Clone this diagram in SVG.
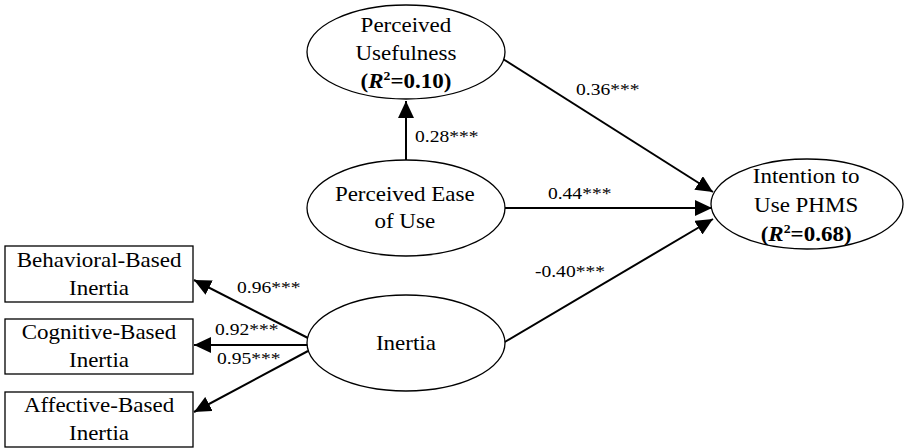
<svg xmlns="http://www.w3.org/2000/svg" width="904" height="448" viewBox="0 0 904 448">
<defs>
<style>
.shape{fill:#fff;stroke:#000;stroke-width:1.3}
.t{font-family:"Liberation Serif","Times New Roman",serif;font-size:20px;fill:#000;text-anchor:middle}
.b{font-weight:bold}
.lbl{font-family:"Liberation Serif","Times New Roman",serif;font-size:17px;fill:#000}
.edge{stroke:#000;stroke-width:2;fill:none;marker-end:url(#ah)}
</style>
<marker id="ah" markerUnits="userSpaceOnUse" markerWidth="18" markerHeight="16" viewBox="0 0 18 16" refX="17" refY="8" orient="auto">
<path d="M0,0 L17,8 L0,16 Z" fill="#000"/>
</marker>
</defs>
<rect width="904" height="448" fill="#fff"/>
<g id="connectors">
<line class="edge" x1="406" y1="160" x2="406" y2="101"/>
<line class="edge" x1="503" y1="59" x2="713" y2="192"/>
<line class="edge" x1="505" y1="208" x2="712" y2="208"/>
<line class="edge" x1="503" y1="343" x2="713" y2="219"/>
<line class="edge" x1="308" y1="338" x2="194" y2="280"/>
<line class="edge" x1="308" y1="345" x2="194" y2="345"/>
<line class="edge" x1="308" y1="351" x2="194" y2="412"/>
<g transform="scale(1.15 1)">
<text class="lbl" x="360.9" y="142">0.28***</text>
<text class="lbl" x="500.9" y="95">0.36***</text>
<text class="lbl" x="476.5" y="199">0.44***</text>
<text class="lbl" x="465.2" y="277">-0.40***</text>
<text class="lbl" x="206.1" y="293">0.96***</text>
<text class="lbl" x="187" y="335">0.92***</text>
<text class="lbl" x="188.7" y="364">0.95***</text>
</g>
</g>
<g id="pu">
<ellipse class="shape" cx="406" cy="52" rx="99" ry="47"/>
<g transform="scale(1.15 1)">
<text class="t" x="353" y="32">Perceived</text>
<text class="t" x="353" y="60">Usefulness</text>
<text class="t b" x="353" y="88">(<tspan font-style="italic">R</tspan><tspan font-size="12" dy="-8">2</tspan><tspan dy="8">=0.10)</tspan></text>
</g>
</g>
<g id="peou">
<ellipse class="shape" cx="406" cy="208" rx="99" ry="48"/>
<g transform="scale(1.15 1)">
<text class="t" x="352" y="201">Perceived Ease</text>
<text class="t" x="352" y="228">of Use</text>
</g>
</g>
<g id="inertia">
<ellipse class="shape" cx="406" cy="343" rx="99" ry="48"/>
<g transform="scale(1.15 1)">
<text class="t" x="353" y="350">Inertia</text>
</g>
</g>
<g id="intention">
<ellipse class="shape" cx="807" cy="204" rx="96" ry="45"/>
<g transform="scale(1.15 1)">
<text class="t" x="701" y="183">Intention to</text>
<text class="t" x="701" y="212">Use PHMS</text>
<text class="t b" x="701" y="241">(<tspan font-style="italic">R</tspan><tspan font-size="12" dy="-8">2</tspan><tspan dy="8">=0.68)</tspan></text>
</g>
</g>
<g id="bbi">
<rect class="shape" x="5" y="246" width="188" height="56"/>
<g transform="scale(1.15 1)">
<text class="t" x="86.1" y="267">Behavioral-Based</text>
<text class="t" x="86.1" y="295">Inertia</text>
</g>
</g>
<g id="cbi">
<rect class="shape" x="5" y="319" width="188" height="55"/>
<g transform="scale(1.15 1)">
<text class="t" x="86.1" y="339">Cognitive-Based</text>
<text class="t" x="86.1" y="367">Inertia</text>
</g>
</g>
<g id="abi">
<rect class="shape" x="5" y="392" width="188" height="55"/>
<g transform="scale(1.15 1)">
<text class="t" x="86.1" y="412">Affective-Based</text>
<text class="t" x="86.1" y="440">Inertia</text>
</g>
</g>
</svg>
